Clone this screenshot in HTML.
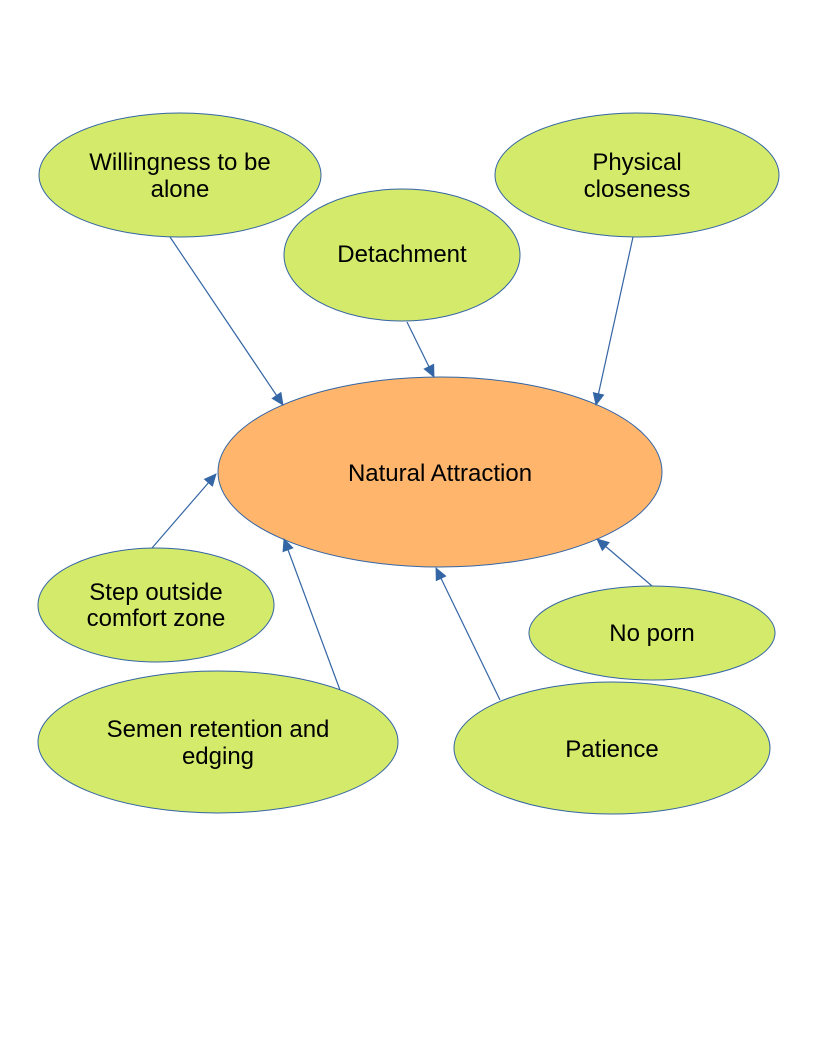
<!DOCTYPE html>
<html><head><meta charset="utf-8"><style>
html,body{margin:0;padding:0;background:#fff;width:816px;height:1056px;overflow:hidden}
svg text{font-family:"Liberation Sans",sans-serif;font-size:24px;fill:#000;text-anchor:middle}
</style></head><body>
<svg width="816" height="1056" viewBox="0 0 816 1056" xmlns="http://www.w3.org/2000/svg">
<defs><marker id="a" markerWidth="14" markerHeight="12" refX="12" refY="6" orient="auto" markerUnits="userSpaceOnUse"><path d="M0,0 L13,6 L0,12 z" fill="#3465a4"/></marker></defs>
<g fill="#d4ea6b" stroke="#3465a4" stroke-width="1">
<ellipse cx="180" cy="175" rx="141" ry="62"/>
<ellipse cx="402" cy="255" rx="118" ry="66"/>
<ellipse cx="637" cy="175" rx="142" ry="62"/>
<ellipse cx="156" cy="605" rx="118" ry="57"/>
<ellipse cx="652" cy="633" rx="123" ry="47"/>
<ellipse cx="218" cy="742" rx="180" ry="71"/>
<ellipse cx="612" cy="748" rx="158" ry="66"/>
</g>
<ellipse cx="440" cy="472" rx="222" ry="95" fill="#ffb66c" stroke="#3465a4" stroke-width="1"/>
<g stroke="#3465a4" stroke-width="1.2" marker-end="url(#a)">
<line x1="170" y1="237" x2="283" y2="405"/>
<line x1="407" y1="322" x2="434" y2="377"/>
<line x1="633" y1="237" x2="596" y2="405"/>
<line x1="152" y1="548" x2="216" y2="474"/>
<line x1="340" y1="690" x2="284" y2="539"/>
<line x1="500" y1="700" x2="436" y2="568"/>
<line x1="652" y1="586" x2="597" y2="539"/>
</g>
<text x="180" y="170">Willingness to be</text><text x="180" y="197">alone</text>
<text x="402" y="262">Detachment</text>
<text x="637" y="170">Physical</text><text x="637" y="197">closeness</text>
<text x="440" y="481">Natural Attraction</text>
<text x="156" y="600">Step outside</text><text x="156" y="626">comfort zone</text>
<text x="652" y="641">No porn</text>
<text x="218" y="737">Semen retention and</text><text x="218" y="764">edging</text>
<text x="612" y="757">Patience</text>
</svg>
</body></html>
